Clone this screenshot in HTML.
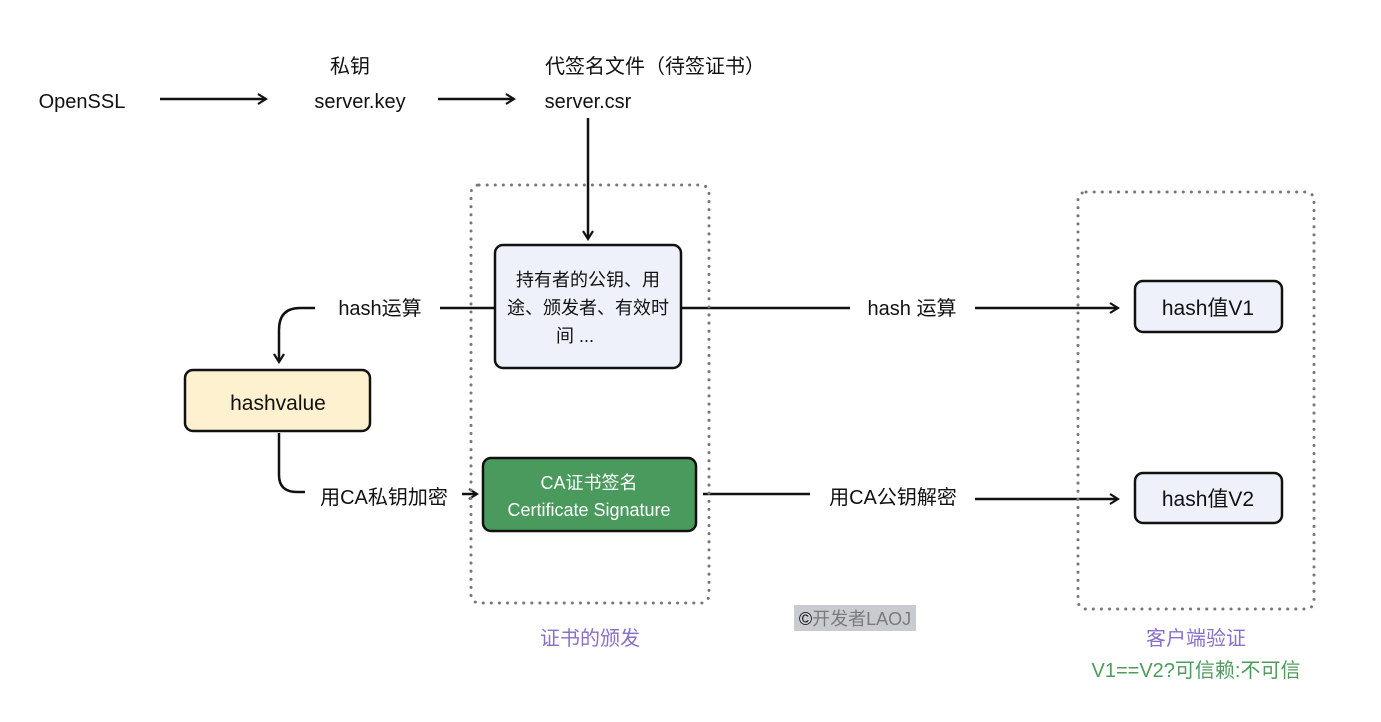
<!DOCTYPE html>
<html><head><meta charset="utf-8"><style>
body{margin:0;background:#fff;}
svg text{font-family:"Liberation Sans","Noto Sans CJK SC",sans-serif;}
</style></head><body>
<svg width="1381" height="717" viewBox="0 0 1381 717" xmlns="http://www.w3.org/2000/svg">
<defs>
<marker id="a" viewBox="0 0 12 12" refX="10" refY="6" markerWidth="12" markerHeight="12" markerUnits="userSpaceOnUse" orient="auto">
<path d="M2,1 L10,6 L2,11" fill="none" stroke="#111" stroke-width="2.2"/>
</marker>
</defs>
<g fill="#111" font-size="20" text-anchor="middle">
<text x="82" y="108">OpenSSL</text>
<text x="350" y="73">私钥</text>
<text x="360" y="108">server.key</text>
<text x="655" y="73">代签名文件（待签证书）</text>
<text x="588" y="108">server.csr</text>
</g>
<g stroke="#111" stroke-width="2.5" fill="none">
<line x1="160" y1="99" x2="266" y2="99" marker-end="url(#a)"/>
<line x1="438" y1="99" x2="514" y2="99" marker-end="url(#a)"/>
<line x1="588" y1="118" x2="588" y2="239" marker-end="url(#a)"/>
<line x1="495" y1="308" x2="440" y2="308"/>
<path d="M315,308 H300 Q279,308 279,330 V362" marker-end="url(#a)"/>
<path d="M279,433 V475 Q279,492 297,492 H305"/>
<line x1="462" y1="494" x2="477" y2="494" marker-end="url(#a)"/>
<line x1="681" y1="308" x2="850" y2="308"/>
<line x1="975" y1="308" x2="1118" y2="308" marker-end="url(#a)"/>
<line x1="703" y1="494" x2="810" y2="494"/>
<line x1="975" y1="499" x2="1118" y2="499" marker-end="url(#a)"/>
</g>
<g stroke="#777" stroke-width="3" fill="none" stroke-dasharray="0.1 8" stroke-linecap="round">
<rect x="471" y="185" width="238" height="418" rx="8"/>
<rect x="1078" y="192" width="236" height="417" rx="8"/>
</g>
<rect x="495" y="245" width="186" height="123" rx="8" fill="#eef1fa" stroke="#111" stroke-width="2.5"/>
<rect x="185" y="370" width="185" height="61" rx="8" fill="#fdf1cf" stroke="#111" stroke-width="2.5"/>
<rect x="483" y="458" width="213" height="73" rx="8" fill="#4b9a5d" stroke="#111" stroke-width="2.5"/>
<rect x="1135" y="281" width="147" height="51" rx="8" fill="#eef1fa" stroke="#111" stroke-width="2.5"/>
<rect x="1135" y="473" width="147" height="50" rx="8" fill="#eef1fa" stroke="#111" stroke-width="2.5"/>
<g fill="#111" text-anchor="middle">
<text x="588" y="286" font-size="18">持有者的公钥、用</text>
<text x="588" y="314" font-size="18">途、颁发者、有效时</text>
<text x="575" y="342" font-size="18">间 ...</text>
<text x="278" y="410" font-size="21">hashvalue</text>
<text x="1208" y="315" font-size="21">hash值V1</text>
<text x="1208" y="506" font-size="21">hash值V2</text>
<text x="380" y="315" font-size="20">hash运算</text>
<text x="912" y="315" font-size="20">hash 运算</text>
<text x="384" y="504" font-size="20">用CA私钥加密</text>
<text x="893" y="504" font-size="20">用CA公钥解密</text>
</g>
<g fill="#fff" text-anchor="middle" font-size="18">
<text x="589" y="489">CA证书签名</text>
<text x="589" y="516">Certificate Signature</text>
</g>
<rect x="794" y="605" width="122" height="26" fill="#c8cbd0"/>
<text x="855" y="625" font-size="18" fill="#7a7a7a" text-anchor="middle"><tspan fill="#111">©</tspan>开发者LAOJ</text>
<text x="590" y="645" font-size="20" fill="#8a6fc9" text-anchor="middle">证书的颁发</text>
<text x="1196" y="645" font-size="20" fill="#8a6fc9" text-anchor="middle">客户端验证</text>
<text x="1196" y="677" font-size="20" fill="#4f9a5d" text-anchor="middle">V1==V2?可信赖:不可信</text>
</svg>
</body></html>
